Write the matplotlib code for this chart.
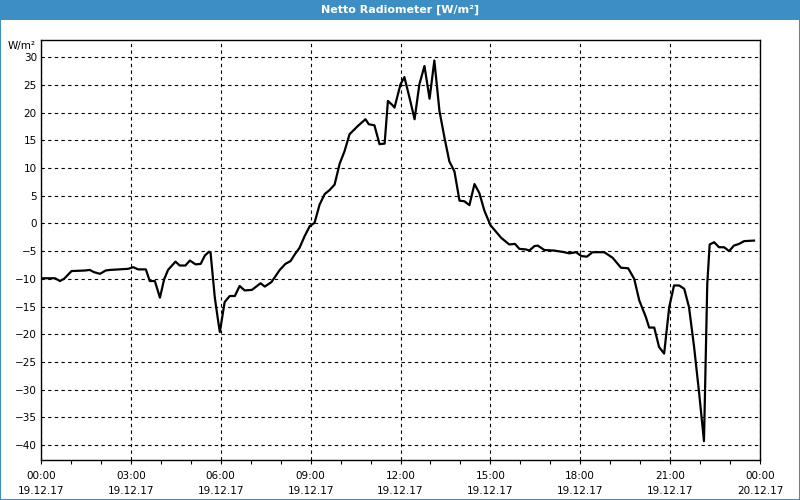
import matplotlib
matplotlib.use("Agg")
from matplotlib import pyplot as plt
from matplotlib.patches import Rectangle
import numpy as np

# hours since 19.12.17 00:00 and net radiation [W/m²]
hours = [0.0, 0.47, 0.63, 0.77, 1.02, 1.47, 1.63, 1.77, 1.97, 2.16, 2.3, 2.63, 2.91,
         3.08, 3.24, 3.5, 3.63, 3.8, 3.97, 4.11, 4.24, 4.49, 4.63, 4.82, 4.97, 5.16,
         5.33, 5.47, 5.61, 5.66, 5.8, 5.91, 5.97, 6.04, 6.13, 6.3, 6.47, 6.63, 6.8,
         7.04, 7.33, 7.47, 7.69, 7.97, 8.16, 8.33, 8.47, 8.63, 8.8, 8.97, 9.13, 9.3,
         9.47, 9.63, 9.8, 9.97, 10.13, 10.3, 10.58, 10.83, 10.94, 11.13, 11.3, 11.47,
         11.58, 11.74, 11.8, 12.0, 12.13, 12.3, 12.47, 12.63, 12.8, 12.97, 13.13, 13.3,
         13.47, 13.63, 13.8, 13.97, 14.13, 14.3, 14.47, 14.63, 14.8, 15.0, 15.19,
         15.36, 15.63, 15.82, 15.97, 16.19, 16.3, 16.47, 16.58, 16.8, 17.13, 17.47,
         17.63, 17.86, 18.04, 18.22, 18.41, 18.8, 19.08, 19.36, 19.6, 19.8, 19.97,
         20.19, 20.3, 20.47, 20.63, 20.8, 20.97, 21.13, 21.3, 21.47, 21.63, 21.8,
         21.97, 22.13, 22.24, 22.32, 22.47, 22.63, 22.8, 22.97, 23.13, 23.3, 23.47,
         23.8]
values = [-9.9, -9.9, -10.4, -10.0, -8.6, -8.5, -8.4, -8.8, -9.1, -8.5, -8.4, -8.3, -8.2,
          -7.9, -8.3, -8.3, -10.4, -10.4, -13.4, -10.1, -8.4, -6.9, -7.6, -7.6, -6.7, -7.4,
          -7.3, -5.8, -5.1, -5.3, -13.3, -17.5, -19.6, -17.2, -14.2, -13.1, -13.1, -11.3, -12.1,
          -12.0, -10.8, -11.4, -10.6, -8.4, -7.3, -6.8, -5.6, -4.4, -2.3, -0.5, 0.1, 3.4,
          5.3, 6.0, 7.0, 10.8, 13.0, 16.1, 17.6, 18.8, 17.9, 17.7, 14.3, 14.4,
          22.1, 21.3, 20.9, 25.1, 26.4, 22.7, 18.8, 25.1, 28.4, 22.5, 29.4, 20.3,
          15.4, 11.2, 9.4, 4.1, 4.0, 3.3, 7.1, 5.5, 2.3, -0.3, -1.5,
          -2.6, -3.8, -3.7, -4.6, -4.7, -4.9, -4.1, -4.0, -4.8, -4.9, -5.2,
          -5.4, -5.2, -5.9, -6.0, -5.2, -5.2, -6.2, -8.0, -8.1, -10.0, -13.9,
          -16.9, -18.8, -18.8, -22.3, -23.5, -15.1, -11.2, -11.2, -11.8, -15.1, -22.3,
          -30.7, -39.3, -10.9, -3.8, -3.4, -4.3, -4.3, -5.0, -4.0, -3.7, -3.2,
          -3.1]

tick_hours = [0, 3, 6, 9, 12, 15, 18, 21, 24]
tick_times = ["00:00", "03:00", "06:00", "09:00", "12:00", "15:00", "18:00", "21:00", "00:00"]
tick_dates = ["19.12.17"] * 8 + ["20.12.17"]

blue = "#3d8fc3"
plt.rcParams["font.family"] = ["DejaVu Sans"]

fig = plt.figure(figsize=(8, 5), dpi=100, facecolor="white")

# title bar and frame
fig.patches.append(Rectangle((0, 0.96), 1, 0.04, transform=fig.transFigure,
                             facecolor=blue, edgecolor="none", zorder=0))
fig.patches.append(Rectangle((0.0006, 0.001), 0.9988, 0.998, transform=fig.transFigure,
                             facecolor="none", edgecolor=blue, linewidth=1.5, zorder=0))
fig.text(0.5, 0.98, "Netto Radiometer [W/m²]", color="white", fontsize=8,
         fontweight="bold", ha="center", va="center")

ax = fig.add_axes([41 / 800, 40 / 500, 719 / 800, 420 / 500])
ax.plot(hours, values, color="black", linewidth=1.6)

ax.set_xlim(0, 23.98)
ax.set_ylim(-42.7, 33.1)
ax.set_xticks(tick_hours)
ax.set_xticklabels([f"{t}\n{d}" for t, d in zip(tick_times, tick_dates)],
                   fontsize=7.5, linespacing=1.6)
ax.set_xticks(np.arange(0, 25, 1), minor=True)
ax.set_yticks(np.arange(-40, 31, 5))
ax.tick_params(axis="y", labelsize=7.5, length=0, pad=3)
ax.tick_params(axis="x", which="both", length=3, width=0.8, pad=5)

ax.grid(True, which="major", color="black", linestyle=(0, (3, 3)), linewidth=0.8)
for s in ax.spines.values():
    s.set_linewidth(1.0)

fig.text(22 / 800, 1 - 46 / 500, "W/m²", fontsize=7.5, ha="center", va="center")

fig.savefig("out.png", dpi=100, facecolor="white")
